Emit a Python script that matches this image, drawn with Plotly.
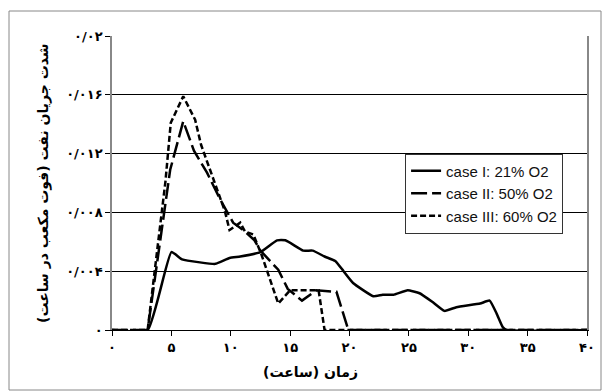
import plotly.graph_objects as go

case1_x = [0, 3, 5.0, 5.9, 7.4, 8.7, 9.9, 10.8, 12.5, 13.9, 14.6, 16.1, 16.9, 17.9, 18.8, 19.5, 20.3, 22.0, 22.8, 23.7, 24.9, 25.9, 27.0, 28.0, 29.0, 31.0, 31.8, 32.4, 32.9, 33.2, 40]
case1_y = [0, 0, 0.0053, 0.0048, 0.0046, 0.0045, 0.0049, 0.0050, 0.0053, 0.0061, 0.0061, 0.0054, 0.0054, 0.0050, 0.0047, 0.0040, 0.0032, 0.0023, 0.0024, 0.0024, 0.0027, 0.0025, 0.0019, 0.0013, 0.00155, 0.0018, 0.0020, 0.0011, 0.0002, 0, 0]

case2_x = [0, 3, 4.9, 6.0, 6.9, 8.0, 9.1, 10.2, 11.2, 12.0, 12.5, 14.0, 14.8, 16.0, 17.2, 18.9, 19.9, 40]
case2_y = [0, 0, 0.0109, 0.0142, 0.0122, 0.0107, 0.0089, 0.0073, 0.0067, 0.0061, 0.0054, 0.0041, 0.0028, 0.0020, 0.0027, 0.0026, 0, 0]

case3_x = [0, 3, 4.5, 4.95, 6.0, 7.0, 7.5, 8.3, 9.5, 9.9, 10.8, 11.2, 11.9, 12.6, 14.0, 15.0, 17.4, 17.9, 40]
case3_y = [0, 0, 0.0101, 0.0141, 0.0159, 0.0143, 0.0126, 0.0108, 0.0081, 0.0068, 0.0073, 0.0067, 0.0065, 0.0051, 0.0018, 0.0027, 0.0027, 0, 0]

names = ["case I: 21% O2", "case II: 50% O2", "case III: 60% O2"]

x_ticks = [0, 5, 10, 15, 20, 25, 30, 35, 40]
x_labels = ["۰", "۵", "۱۰", "۱۵", "۲۰", "۲۵", "۳۰", "۳۵", "۴۰"]
y_ticks = [0, 0.004, 0.008, 0.012, 0.016, 0.02]
y_labels = ["۰", "۰/۰۰۴", "۰/۰۰۸", "۰/۰۱۲", "۰/۰۱۶", "۰/۰۲"]

x_title = "زمان (ساعت)"
y_title = "شدت جریان نفت (فوت مکعب در ساعت)"

fig = go.Figure()
fig.add_trace(go.Scatter(x=case1_x, y=case1_y, mode="lines", name=names[0],
                         line=dict(color="black", width=2.5, shape="spline", smoothing=0.4)))
fig.add_trace(go.Scatter(x=case2_x, y=case2_y, mode="lines", name=names[1],
                         line=dict(color="black", width=2.5, dash="16px,5px")))
fig.add_trace(go.Scatter(x=case3_x, y=case3_y, mode="lines", name=names[2],
                         line=dict(color="black", width=2.5, dash="6px,3px")))

fig.update_layout(
    width=603, height=391,
    margin=dict(l=112, r=16, t=36, b=61, autoexpand=False),
    paper_bgcolor="white", plot_bgcolor="white",
    font=dict(family="DejaVu Sans, Liberation Sans, Arial", color="black"),
    showlegend=True,
    legend=dict(x=0.617, y=0.6, xanchor="left", yanchor="top",
                bordercolor="#333", borderwidth=1, bgcolor="white",
                font=dict(family="Liberation Sans, Arial", size=15, color="#111"),
                tracegroupgap=0),
    xaxis=dict(range=[0, 40], tickvals=x_ticks, ticktext=["<b>" + t + "</b>" for t in x_labels],
               showgrid=False, zeroline=False, showline=True, linecolor="black", linewidth=1,
               ticks="outside", ticklen=5, tickcolor="black",
               tickfont=dict(family="DejaVu Sans", size=13, color="black"),
               fixedrange=True),
    yaxis=dict(range=[0, 0.02], tickvals=y_ticks, ticktext=["<b>" + t + "</b>" for t in y_labels],
               showgrid=True, gridcolor="black", gridwidth=1, zeroline=False,
               showline=True, linecolor="#888", linewidth=1.5, mirror=True,
               ticks="outside", ticklen=5, tickcolor="black",
               tickfont=dict(family="DejaVu Sans", size=13, color="black"),
               fixedrange=True),
)

fig.add_annotation(text="<b>" + x_title + "</b>", xref="paper", yref="paper",
                   x=(310 - 112) / 475, y=(330 - 372) / 294, xanchor="center", yanchor="middle",
                   showarrow=False, font=dict(family="DejaVu Sans", size=14, color="black"))
fig.add_annotation(text="<b>" + y_title + "</b>", xref="paper", yref="paper",
                   x=(43 - 112) / 475, y=(330 - 183) / 294, xanchor="center", yanchor="middle",
                   textangle=-90, showarrow=False,
                   font=dict(family="DejaVu Sans", size=14, color="black"))

fig.add_shape(type="rect", xref="paper", yref="paper",
              x0=(9 - 112) / 475, x1=(601 - 112) / 475,
              y0=(330 - 390) / 294, y1=(330 - 11) / 294,
              line=dict(color="#888", width=1), fillcolor="rgba(0,0,0,0)", layer="below")

fig.write_html("out.html", config={"displayModeBar": False},
               post_script="document.body.style.margin='0';")
